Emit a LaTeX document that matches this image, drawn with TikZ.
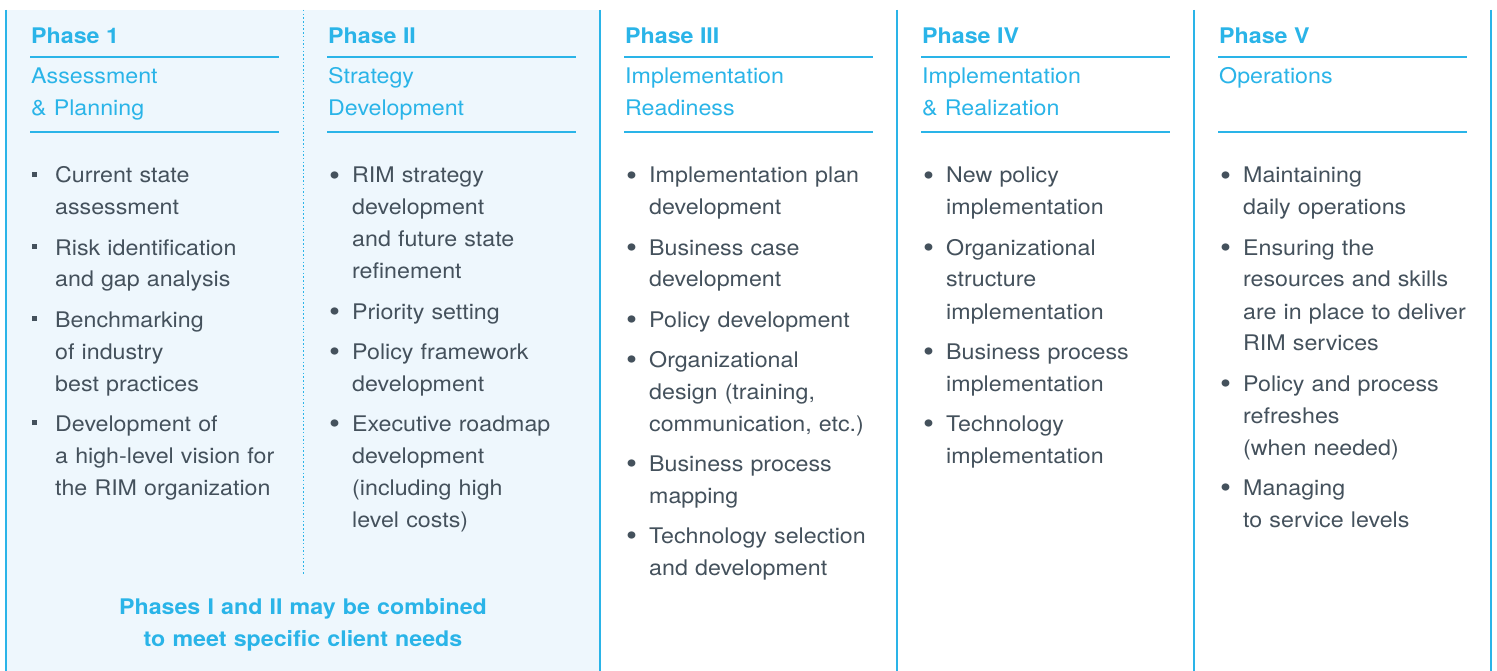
\documentclass[tikz,border=0pt]{standalone}
\usepackage{fontspec}
\setmainfont{TeX Gyre Heros}[FakeStretch=1.08]
\usepackage{xcolor}
\usepackage{graphicx}
\definecolor{rimblue}{HTML}{2AB4E8}
\definecolor{rimbg}{HTML}{EEF7FD}
\definecolor{rimtext}{HTML}{44515C}
\newcommand{\sqbul}{\leavevmode\llap{\rule[6pt]{5pt}{5pt}\hspace{18pt}}}
\newcommand{\rdbul}{\leavevmode\llap{\raisebox{-2.5pt}{\scalebox{1.35}{\textbullet}}\hspace{12pt}}}
\begin{document}
\begin{tikzpicture}
[
x=1pt, y=-1pt,
phasehead/.style={anchor=base west, inner sep=0pt, text=rimblue, font=\fontsize{21.5}{32}\selectfont\bfseries},
phasename/.style={anchor=base west, inner sep=0pt, text=rimblue, text width=260pt, align=left, font=\fontsize{21.5}{32}\selectfont},
itembox/.style={anchor=base west, inner sep=0pt, text=rimtext, text width=260pt, align=left, font=\fontsize{21.5}{32}\selectfont},
notebox/.style={anchor=base, inner sep=0pt, text=rimblue, text width=500pt, align=center, font=\fontsize{21.5}{32}\selectfont\bfseries},
headrule/.style={draw=rimblue, line width=1.4pt},
colline/.style={draw=rimblue, line width=1.3pt},
dotline/.style={draw=rimblue, line width=0.9pt, dash pattern=on 1.5pt off 2.2pt},
]
\fill[white] (0,0) rectangle (1497,671);
\useasboundingbox (0,0) rectangle (1497,671);
\fill[rimbg] (6,10) rectangle (600,671);

% column borders
\draw[colline] (6,10) -- (6,671);
\draw[colline] (600,10) -- (600,671);
\draw[colline] (897,10) -- (897,671);
\draw[colline] (1194,10) -- (1194,671);
\draw[colline] (1491,10) -- (1491,671);
\draw[dotline] (303,10) -- (303,575);

% headers
\node at (31,44) [phasehead] (head1) {Phase 1};
\node at (328,44) [phasehead] (head2) {Phase II};
\node at (625,44) [phasehead] (head3) {Phase III};
\node at (922,44) [phasehead] (head4) {Phase IV};
\node at (1219,44) [phasehead] (head5) {Phase V};

\draw[headrule] (30,57) -- (279,57);
\draw[headrule] (327,57) -- (576,57);
\draw[headrule] (624,57) -- (873,57);
\draw[headrule] (921,57) -- (1170,57);
\draw[headrule] (1218,57) -- (1467,57);

\node at (31,84) [phasename] (name1) {Assessment\\\& Planning};
\node at (328,84) [phasename] (name2) {Strategy\\Development};
\node at (625,84) [phasename] (name3) {Implementation\\Readiness};
\node at (922,84) [phasename] (name4) {Implementation\\\& Realization};
\node at (1219,84) [phasename] (name5) {Operations};

\draw[headrule] (30,132) -- (279,132);
\draw[headrule] (327,132) -- (576,132);
\draw[headrule] (624,132) -- (873,132);
\draw[headrule] (921,132) -- (1170,132);
\draw[headrule] (1218,132) -- (1467,132);

% phase 1
\node at (55,183) [itembox] (p1a) {\sqbul Current state\\assessment};
\node at (55,255) [itembox] (p1b) {\sqbul Risk identification\\and gap analysis};
\node at (55,327) [itembox] (p1c) {\sqbul Benchmarking\\of industry\\best practices};
\node at (55,431) [itembox] (p1d) {\sqbul Development of\\a high-level vision for\\the RIM organization};

% phase 2
\node at (352,183) [itembox] (p2a) {\rdbul RIM strategy\\development\\and future state\\refinement};
\node at (352,319) [itembox] (p2b) {\rdbul Priority setting};
\node at (352,359) [itembox] (p2c) {\rdbul Policy framework\\development};
\node at (352,431) [itembox] (p2d) {\rdbul Executive roadmap\\development\\(including high\\level costs)};

% phase 3
\node at (649,183) [itembox] (p3a) {\rdbul Implementation plan\\development};
\node at (649,255) [itembox] (p3b) {\rdbul Business case\\development};
\node at (649,327) [itembox] (p3c) {\rdbul Policy development};
\node at (649,367) [itembox] (p3d) {\rdbul Organizational\\design (training,\\communication, etc.)};
\node at (649,471) [itembox] (p3e) {\rdbul Business process\\mapping};
\node at (649,543) [itembox] (p3f) {\rdbul Technology selection\\and development};

% phase 4
\node at (946,183) [itembox] (p4a) {\rdbul New policy\\implementation};
\node at (946,255) [itembox] (p4b) {\rdbul Organizational\\structure\\implementation};
\node at (946,359) [itembox] (p4c) {\rdbul Business process\\implementation};
\node at (946,431) [itembox] (p4d) {\rdbul Technology\\implementation};

% phase 5
\node at (1243,183) [itembox] (p5a) {\rdbul Maintaining\\daily operations};
\node at (1243,255) [itembox] (p5b) {\rdbul Ensuring the\\resources and skills\\are in place to deliver\\RIM services};
\node at (1243,391) [itembox] (p5c) {\rdbul Policy and process\\refreshes\\(when needed)};
\node at (1243,495) [itembox] (p5d) {\rdbul Managing\\to service levels};

\node at (303,614) [notebox] (combine) {Phases I and II may be combined\\to meet specific client needs};
\end{tikzpicture}
\end{document}
